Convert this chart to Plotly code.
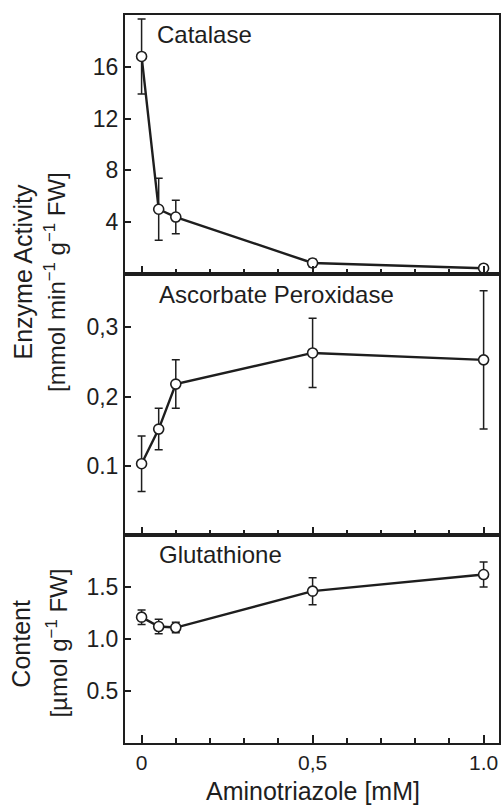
import plotly.graph_objects as go

# aminotriazole concentration (mM)
atz = [0, 0.05, 0.1, 0.5, 1.0]

# catalase activity and SD
catalase = [16.8, 5.0, 4.4, 0.85, 0.45]
catalase_sd = [2.9, 2.4, 1.3, 0.3, 0.2]

# ascorbate peroxidase activity and SD
apx = [0.103, 0.153, 0.218, 0.263, 0.253]
apx_sd = [0.04, 0.03, 0.035, 0.05, 0.10]

# glutathione content and SD
gsh = [1.21, 1.12, 1.11, 1.46, 1.62]
gsh_sd = [0.07, 0.07, 0.05, 0.13, 0.12]

ink = "#1e1e1e"
font = "Liberation Sans, Arial, sans-serif"

fig = go.Figure()

for vals, sd, ax in [(catalase, catalase_sd, "y"), (apx, apx_sd, "y2"), (gsh, gsh_sd, "y3")]:
    fig.add_trace(go.Scatter(
        x=atz, y=vals, xaxis="x" + ax[1:], yaxis=ax,
        mode="lines+markers",
        line=dict(color=ink, width=2.4),
        marker=dict(symbol="circle", size=10, color="white", line=dict(color=ink, width=1.6)),
        error_y=dict(type="data", array=sd, visible=True, color=ink, thickness=1.5, width=4),
        showlegend=False,
    ))

d1 = [0.6442, 1.0]
d2 = [0.2857, 0.6442]
d3 = [0.0, 0.2857]

xbase = dict(
    range=[-0.0485, 1.045], showline=True, linecolor=ink, linewidth=2, mirror=True,
    ticks="inside", ticklen=8, tickwidth=1.5, tickcolor=ink,
    tickmode="array", tickvals=[0, 0.5, 1.0], ticktext=["0", "0,5", "1.0"],
    minor=dict(tickmode="linear", tick0=0, dtick=0.1, ticks="inside", ticklen=5, tickwidth=1.5, tickcolor=ink),
    showgrid=False, zeroline=False, fixedrange=True,
)
ybase = dict(
    showline=True, linecolor=ink, linewidth=2, mirror=True,
    ticks="inside", ticklen=6, tickwidth=1.5, tickcolor=ink,
    showgrid=False, zeroline=False, fixedrange=True,
    tickfont=dict(size=23, color=ink, family=font),
)

fig.update_layout(
    width=503, height=806,
    margin=dict(l=125, r=2, t=15, b=63),
    paper_bgcolor="white", plot_bgcolor="white",
    font=dict(family=font, color=ink, size=23),
    xaxis=dict(xbase, anchor="y", showticklabels=False),
    xaxis2=dict(xbase, anchor="y2", showticklabels=False),
    xaxis3=dict(xbase, anchor="y3", tickfont=dict(size=21, color=ink, family=font)),
    yaxis=dict(ybase, domain=d1, anchor="x", range=[0, 20], tickvals=[4, 8, 12, 16]),
    yaxis2=dict(ybase, domain=d2, anchor="x2", range=[0, 0.377],
                tickvals=[0.1, 0.2, 0.3], ticktext=["0.1", "0,2", "0,3"]),
    yaxis3=dict(ybase, domain=d3, anchor="x3", range=[0, 2.0],
                tickvals=[0.5, 1.0, 1.5], ticktext=["0.5", "1.0", "1.5"]),
)

def note(text, x, y, xanchor="center", angle=0, size=24):
    fig.add_annotation(text=text, x=x, y=y, xref="paper", yref="paper",
                       xanchor=xanchor, yanchor="middle", textangle=angle,
                       showarrow=False, font=dict(size=size, color=ink, family=font))

note("Catalase", 0.08, 0.973, xanchor="left")
note("Ascorbate Peroxidase", 0.085, 0.616, xanchor="left")
note("Glutathione", 0.085, 0.259, xanchor="left")

note("Enzyme Activity", -0.274, 0.647, angle=-90, size=25)
note("[mmol min<sup>−1</sup> g<sup>−1</sup> FW]", -0.186, 0.634, angle=-90)
note("Content", -0.277, 0.137, angle=-90, size=25)
note("[µmol g<sup>−1</sup> FW]", -0.181, 0.137, angle=-90)

note("Aminotriazole [mM]", 0.503, -0.0665, size=25)

# page body has a default 8px margin; drop it so the figure sits at the window corner
fig.write_html("out.html", config={"displayModeBar": False},
               post_script="document.body.style.margin='0px';")
